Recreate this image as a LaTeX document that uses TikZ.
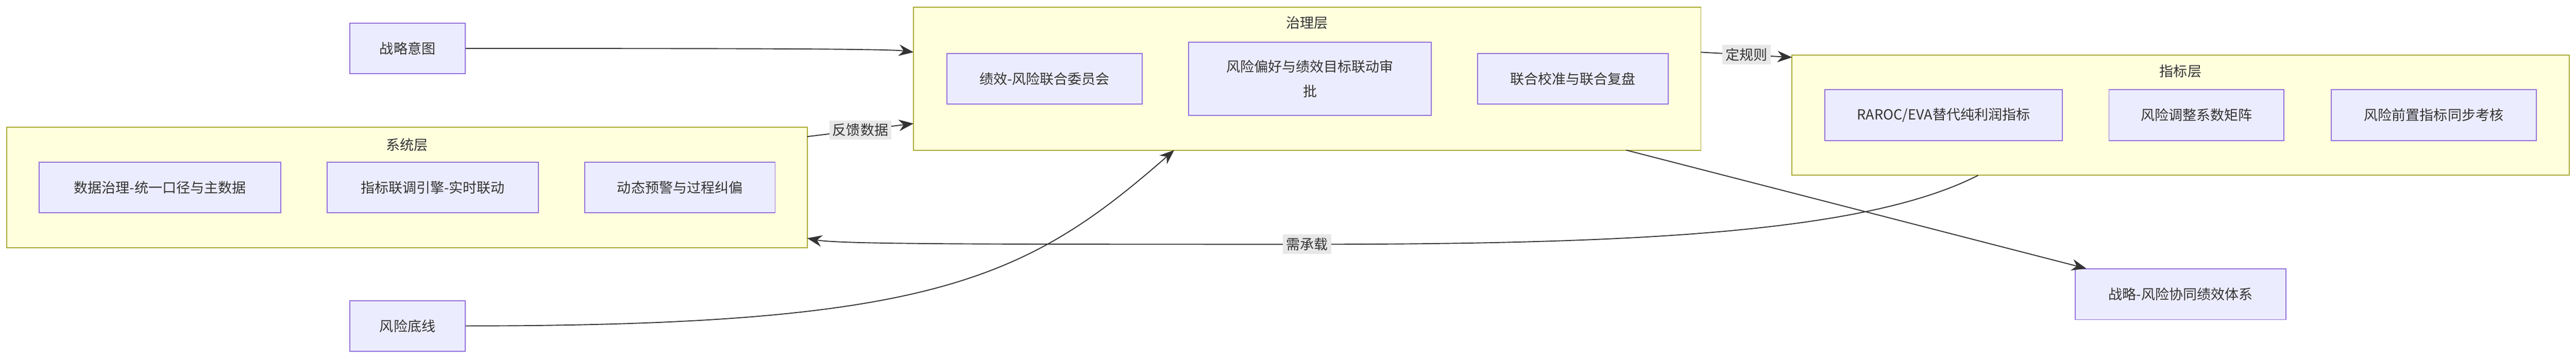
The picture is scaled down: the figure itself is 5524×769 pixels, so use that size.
\documentclass[tikz,border=0pt]{standalone}
\usepackage{fontspec}
\setmainfont{Noto Sans CJK SC}
\usetikzlibrary{arrows.meta}
\definecolor{boxfill}{HTML}{ECECFF}
\definecolor{boxline}{HTML}{9370DB}
\definecolor{layfill}{HTML}{FFFFDE}
\definecolor{layline}{HTML}{AAAA33}
\definecolor{edgeline}{HTML}{333333}
\definecolor{tagfill}{HTML}{E8E8E8}
\tikzset{
  item/.style={draw=boxline, fill=boxfill, line width=0.6pt, align=center, inner sep=0pt},
  layer/.style={draw=layline, fill=layfill, line width=0.6pt, inner sep=0pt},
  flow/.style={draw=edgeline, line width=0.6pt, -{Stealth[length=9pt,width=7pt]}},
  tag/.style={fill=tagfill, inner sep=2pt, font=\fontsize{8.5}{11}\selectfont}
}
\begin{document}
\begin{tikzpicture}[x=0.01cm,y=-0.01cm, font=\fontsize{8.5}{11}\selectfont, text=edgeline]
  \useasboundingbox (0,0) rectangle (5524,769);
  % layers
  \node[layer, minimum width=17.16cm, minimum height=2.58cm] (sys) at (873,402) {};
  \node[anchor=north] at (sys.north) [yshift=-0.12cm] {系统层};
  \node[layer, minimum width=16.88cm, minimum height=3.06cm] (gov) at (2803,169) {};
  \node[anchor=north] at (gov.north) [yshift=-0.08cm] {治理层};
  \node[layer, minimum width=16.66cm, minimum height=2.58cm] (ind) at (4676,247) {};
  \node[anchor=north] at (ind.north) [yshift=-0.1cm] {指标层};
  % items
  \node[item, minimum width=2.47cm, minimum height=1.08cm] (intent) at (874,104) {战略意图};
  \node[item, minimum width=2.47cm, minimum height=1.08cm] (floor) at (874,699) {风险底线};
  \node[item, minimum width=5.17cm, minimum height=1.08cm] (s1) at (343,402) {数据治理-统一口径与主数据};
  \node[item, minimum width=4.52cm, minimum height=1.08cm] (s2) at (928,402) {指标联调引擎-实时联动};
  \node[item, minimum width=4.08cm, minimum height=1.08cm] (s3) at (1458,402) {动态预警与过程纠偏};
  \node[item, minimum width=4.19cm, minimum height=1.09cm] (g1) at (2240,169) {绩效-风险联合委员会};
  \node[item, minimum width=5.20cm, minimum height=1.56cm] (g2) at (2809,169) {风险偏好与绩效目标联动审\\[4pt]批};
  \node[item, minimum width=4.08cm, minimum height=1.09cm] (g3) at (3373,169) {联合校准与联合复盘};
  \node[item, minimum width=5.09cm, minimum height=1.09cm] (i1) at (4168,247) {RAROC/EVA替代纯利润指标};
  \node[item, minimum width=3.75cm, minimum height=1.09cm] (i2) at (4710,247) {风险调整系数矩阵};
  \node[item, minimum width=4.39cm, minimum height=1.09cm] (i3) at (5219,247) {风险前置指标同步考核};
  \node[item, minimum width=4.52cm, minimum height=1.09cm] (goal) at (4676,631) {战略-风险协同绩效体系};
  % connector ends
  \coordinate (govA) at (1959,112);
  \coordinate (govB) at (1959,265);
  \coordinate (govC) at (2518,322);
  \coordinate (govD) at (3487,322);
  \coordinate (govE) at (3647,112);
  \coordinate (sysA) at (1731,293);
  \coordinate (sysB) at (1731,511);
  \coordinate (indA) at (3843,123);
  \coordinate (indB) at (4242,376);
  \coordinate (goalA) at (4474,576);
  % connectors
  \draw[flow] (intent.east) .. controls (1500,104) and (1900,104) .. (govA);
  \draw[flow] (sysA) -- node[tag] {反馈数据} (govB);
  \draw[flow] (govE) -- node[tag] {定规则} (indA);
  \draw[flow] (indB) .. controls (4000,500) and (3500,524) .. (2803,524)
    node[tag] {需承载} .. controls (2100,524) and (1800,524) .. (sysB);
  \draw[flow] (floor.east) .. controls (2000,699) and (2200,600) .. (govC);
  \draw[flow] (govD) -- (goalA);
\end{tikzpicture}
\end{document}
